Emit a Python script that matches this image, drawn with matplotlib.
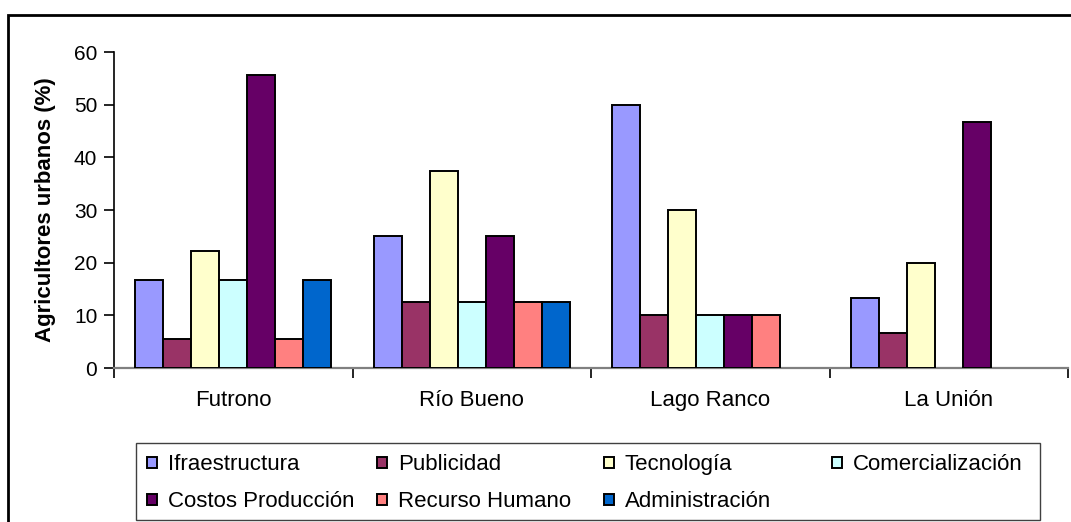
import numpy as np
import matplotlib
matplotlib.use("Agg")
import matplotlib.pyplot as plt
from matplotlib.patches import Rectangle

plt.rcParams['font.family'] = ['Liberation Sans', 'DejaVu Sans']

# ---------------------------
# data
# ---------------------------
comunas = ['Futrono', 'Río Bueno', 'Lago Ranco', 'La Unión']
series = ['Ifraestructura', 'Publicidad', 'Tecnología', 'Comercialización',
          'Costos Producción', 'Recurso Humano', 'Administración']
colores = ['#9999FF', '#993366', '#FFFFCC', '#CCFFFF',
           '#660066', '#FF8080', '#0066CC']

ifraestructura = [16.7, 25.0, 50.0, 13.3]
publicidad = [5.6, 12.5, 10.0, 6.7]
tecnologia = [22.2, 37.5, 30.0, 20.0]
comercializacion = [16.7, 12.5, 10.0, 0.0]
costos = [55.6, 25.0, 10.0, 46.7]
recurso = [5.6, 12.5, 10.0, 0.0]
administracion = [16.7, 12.5, 0.0, 0.0]
valores = [ifraestructura, publicidad, tecnologia, comercializacion,
           costos, recurso, administracion]

W, H = 1071, 522
fig = plt.figure(figsize=(W / 100, H / 100), dpi=100)
ax = fig.add_axes([114 / W, 1 - 368 / H, (1068 - 114) / W, (368 - 52) / H])

x = np.arange(len(comunas))
ancho = 0.1175
handles = {}
for i, (nombre, vals, col) in enumerate(zip(series, valores, colores)):
    bars = ax.bar(x + (i - 3) * ancho, vals, ancho, color=col,
                  edgecolor='black', linewidth=1.4, label=nombre, zorder=3)
    for b, v in zip(bars, vals):
        if v == 0:
            b.set_visible(False)
    handles[nombre] = bars

ax.set_xlim(-0.5, len(comunas) - 0.5)
ax.set_ylim(0, 60)
ax.set_yticks(range(0, 61, 10))
ax.set_xticks(x)
ax.set_xticklabels(comunas, fontsize=16)
ax.set_xticks(np.arange(-0.5, len(comunas), 1.0), minor=True)
ax.tick_params(axis='x', which='major', length=0, pad=16)
ax.tick_params(axis='x', which='minor', length=7, width=1.2, direction='out')
ax.tick_params(axis='y', labelsize=15, length=7, width=1.2, direction='out', pad=5)

for s in ['top', 'right']:
    ax.spines[s].set_visible(False)
ax.spines['left'].set_linewidth(1.2)
ax.spines['bottom'].set_color('#808080')
ax.spines['bottom'].set_linewidth(1.6)

ax.set_ylabel('Agricultores urbanos (%)', fontsize=16, fontweight='bold', labelpad=13)

# legend: frame plus four equal-width columns, like the original
fig.patches.append(Rectangle((136 / W, 1 - 520 / H), (1040 - 136) / W, (520 - 443) / H,
                             transform=fig.transFigure, fill=False,
                             edgecolor='#404040', linewidth=1.0))
columnas = [['Ifraestructura', 'Costos Producción'],
            ['Publicidad', 'Recurso Humano'],
            ['Tecnología', 'Administración'],
            ['Comercialización']]
col_x = [143, 373, 600, 828]
for cx, nombres in zip(col_x, columnas):
    leg = fig.legend([handles[n] for n in nombres], nombres, loc='upper left',
                     bbox_to_anchor=(cx / W, 1 - 450 / H), ncol=1, fontsize=16,
                     frameon=False, handlelength=0.42, handleheight=0.42,
                     handletextpad=0.5, labelspacing=0.72,
                     borderaxespad=0, borderpad=0.2)

# outer chart frame (cut at the right and bottom edges)
fig.patches.append(Rectangle((8 / W, -0.05), 1.2, (H - 15) / H + 0.05,
                             transform=fig.transFigure, fill=False,
                             edgecolor='black', linewidth=2))

fig.savefig('out.png', dpi=100)
